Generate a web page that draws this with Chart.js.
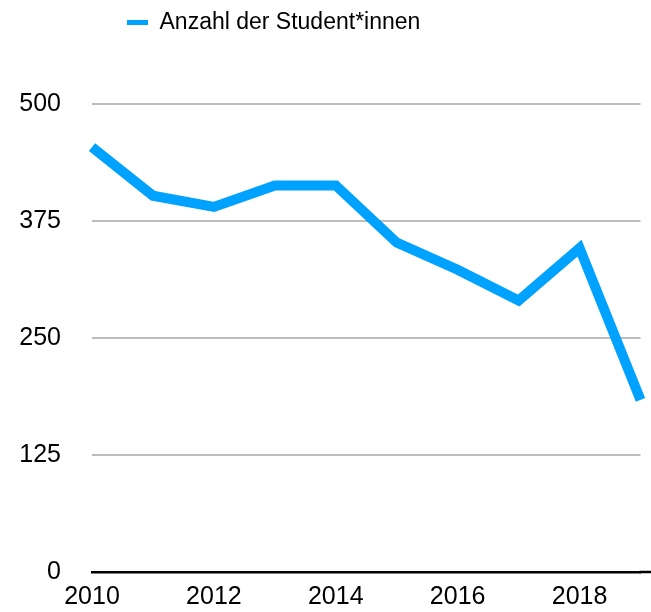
<!DOCTYPE html>
<html>
<head>
<meta charset="utf-8">
<script src="https://cdn.jsdelivr.net/npm/chart.js@4/dist/chart.umd.min.js"></script>
<style>
  html, body { margin: 0; padding: 0; background: #ffffff; }
  #wrap { width: 651px; height: 612px; position: relative; }
</style>
</head>
<body>
<div id="wrap"><canvas id="c" width="651" height="612"></canvas></div>
<script>
const years = ['2010', '2011', '2012', '2013', '2014', '2015', '2016', '2017', '2018', '2019'];
const students = [454, 402, 390, 413, 413, 352, 323, 290, 346, 184];
const yTicks = [0, 125, 250, 375, 500];
const xTickLabels = ['2010', '2012', '2014', '2016', '2018'];
const seriesName = 'Anzahl der Student*innen';

const FONT = "'Liberation Sans', Arial, Helvetica, sans-serif";
const BLUE = '#00A2FF';
const LEGEND_PAD = 11;

const layoutPlugin = {
  id: 'layoutTweaks',
  beforeLayout(chart) {
    const lg = chart.legend;
    if (lg && !lg._wrappedFit) {
      const orig = lg.fit.bind(lg);
      lg.fit = function () { orig(); this.height = 104; };
      lg._wrappedFit = true;
    }
  },
  beforeDraw(chart) {
    const lg = chart.legend;
    if (lg) { lg.left = 127 - LEGEND_PAD; lg.right = chart.width; }
  },
  afterDraw(chart) {
    const ctx = chart.ctx;
    const y0 = chart.scales.y.getPixelForValue(0);
    ctx.save();
    ctx.strokeStyle = '#000000';
    ctx.lineWidth = 2.5;
    ctx.beginPath();
    ctx.moveTo(chart.chartArea.right - 1, y0);
    ctx.lineTo(chart.width, y0);
    ctx.stroke();
    ctx.restore();
  }
};

new Chart(document.getElementById('c'), {
  type: 'line',
  data: {
    labels: years,
    datasets: [{
      label: seriesName,
      data: students,
      borderColor: BLUE,
      backgroundColor: BLUE,
      borderWidth: 10,
      borderJoinStyle: 'miter',
      borderCapStyle: 'butt',
      pointRadius: 0,
      pointHoverRadius: 0,
      tension: 0,
      fill: false,
      clip: false
    }]
  },
  options: {
    responsive: false,
    animation: false,
    devicePixelRatio: 1,
    layout: { padding: { left: 0, right: 9, top: 0, bottom: 0 } },
    plugins: {
      legend: {
        display: true,
        position: 'top',
        align: 'start',
        labels: {
          boxWidth: 21,
          boxHeight: 5,
          padding: LEGEND_PAD,
          color: '#000000',
          font: { family: FONT, size: 23 },
          generateLabels(chart) {
            return chart.data.datasets.map((ds, i) => ({
              text: ds.label,
              fillStyle: ds.borderColor,
              strokeStyle: ds.borderColor,
              lineWidth: 0,
              hidden: false,
              datasetIndex: i
            }));
          }
        }
      },
      tooltip: { enabled: false }
    },
    scales: {
      x: {
        type: 'category',
        afterFit(scale) { scale.height = 40; },
        grid: { display: false, drawTicks: false },
        border: { display: true, color: '#000000', width: 2.5 },
        ticks: {
          autoSkip: false,
          maxRotation: 0,
          padding: 10.5,
          color: '#000000',
          font: { family: FONT, size: 25 },
          callback(value, index) {
            const lbl = years[index];
            return xTickLabels.includes(lbl) ? lbl : '';
          }
        }
      },
      y: {
        min: yTicks[0],
        max: yTicks[yTicks.length - 1],
        afterBuildTicks(scale) { scale.ticks = yTicks.map(v => ({ value: v })); },
        afterFit(scale) {
          scale.width = 92;
          scale.paddingTop = 15;
          scale.paddingBottom = 15;
        },
        grid: {
          drawTicks: false,
          lineWidth: 2,
          color(ctx) { return ctx.tick && ctx.tick.value === 0 ? 'rgba(0,0,0,0)' : '#BDBDBD'; }
        },
        border: { display: false },
        ticks: {
          padding: 31,
          color: '#000000',
          font: { family: FONT, size: 25 }
        }
      }
    }
  },
  plugins: [layoutPlugin]
});
</script>
</body>
</html>
